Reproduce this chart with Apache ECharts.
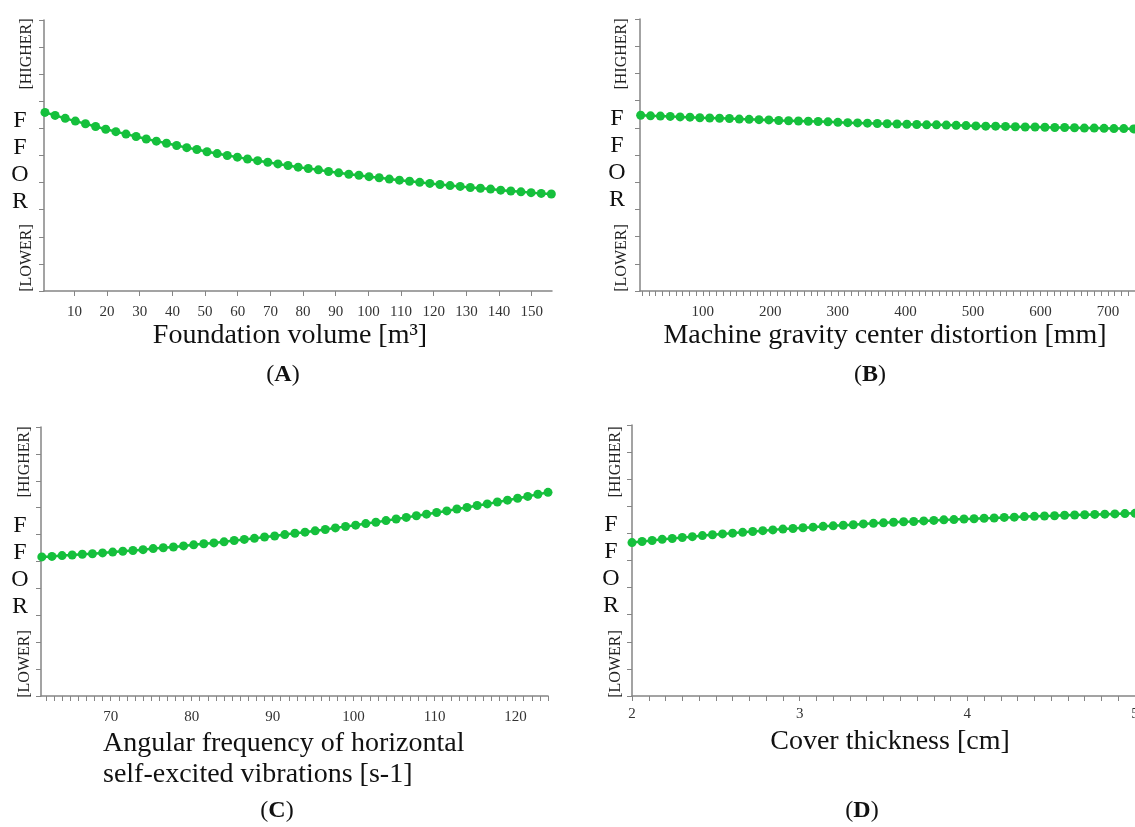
<!DOCTYPE html>
<html>
<head>
<meta charset="utf-8">
<script src="https://cdn.jsdelivr.net/npm/echarts@6/dist/echarts.min.js"></script>
<style>html,body{margin:0;padding:0;background:#fff;}#c{width:1135px;height:827px;}</style>
</head>
<body>
<div id="c"></div>
<script>
// ---- Data ----
const xA = [1,4.1,7.2,10.3,13.4,16.5,19.6,22.7,25.8,28.9,32,35.1,38.2,41.3,44.4,47.5,50.6,53.7,56.8,59.9,63,66.1,69.2,72.3,75.4,78.5,81.6,84.7,87.8,90.9,94,97.1,100.2,103.3,106.4,109.5,112.6,115.7,118.8,121.9,125,128.1,131.2,134.3,137.4,140.5,143.6,146.7,149.8,152.9,156];
const yA = [6.59,6.48,6.37,6.27,6.17,6.07,5.97,5.88,5.79,5.70,5.61,5.53,5.45,5.37,5.29,5.22,5.14,5.07,5.00,4.94,4.87,4.81,4.75,4.69,4.63,4.57,4.52,4.47,4.41,4.36,4.31,4.27,4.22,4.18,4.13,4.09,4.05,4.01,3.97,3.93,3.89,3.86,3.82,3.79,3.76,3.72,3.69,3.66,3.63,3.60,3.58];

const xB = [8,22.6,37.2,51.8,66.4,81,95.6,110.2,124.8,139.4,154,168.6,183.2,197.8,212.4,227,241.6,256.2,270.8,285.4,300,314.6,329.2,343.8,358.4,373,387.6,402.2,416.8,431.4,446,460.6,475.2,489.8,504.4,519,533.6,548.2,562.8,577.4,592,606.6,621.2,635.8,650.4,665,679.6,694.2,708.8,723.4,738];
const yB = [6.46,6.44,6.43,6.42,6.40,6.39,6.37,6.36,6.35,6.34,6.32,6.31,6.30,6.29,6.27,6.26,6.25,6.24,6.23,6.22,6.20,6.19,6.18,6.17,6.16,6.15,6.14,6.13,6.12,6.11,6.11,6.10,6.09,6.08,6.07,6.06,6.06,6.05,6.04,6.03,6.03,6.02,6.01,6.01,6.00,5.99,5.99,5.98,5.97,5.97,5.96];

const xC = [61.5,62.75,64,65.25,66.5,67.75,69,70.25,71.5,72.75,74,75.25,76.5,77.75,79,80.25,81.5,82.75,84,85.25,86.5,87.75,89,90.25,91.5,92.75,94,95.25,96.5,97.75,99,100.25,101.5,102.75,104,105.25,106.5,107.75,109,110.25,111.5,112.75,114,115.25,116.5,117.75,119,120.25,121.5,122.75,124];
const yC = [5.17,5.19,5.22,5.24,5.27,5.29,5.32,5.35,5.38,5.41,5.44,5.48,5.51,5.54,5.58,5.62,5.66,5.69,5.73,5.78,5.82,5.86,5.91,5.95,6.00,6.05,6.09,6.14,6.19,6.25,6.30,6.35,6.41,6.46,6.52,6.58,6.64,6.70,6.76,6.82,6.88,6.95,7.01,7.08,7.14,7.21,7.28,7.35,7.42,7.50,7.57];

const xD = [2,2.06,2.12,2.18,2.24,2.3,2.36,2.42,2.48,2.54,2.6,2.66,2.72,2.78,2.84,2.9,2.96,3.02,3.08,3.14,3.2,3.26,3.32,3.38,3.44,3.5,3.56,3.62,3.68,3.74,3.8,3.86,3.92,3.98,4.04,4.1,4.16,4.22,4.28,4.34,4.4,4.46,4.52,4.58,4.64,4.7,4.76,4.82,4.88,4.94,5];
const yD = [5.66,5.70,5.74,5.78,5.81,5.85,5.88,5.92,5.95,5.98,6.01,6.04,6.07,6.10,6.13,6.16,6.18,6.21,6.23,6.26,6.28,6.30,6.32,6.35,6.37,6.39,6.41,6.43,6.44,6.46,6.48,6.50,6.51,6.53,6.54,6.56,6.57,6.59,6.60,6.62,6.63,6.64,6.65,6.67,6.68,6.69,6.70,6.71,6.72,6.73,6.74];

// tick labels
const labelsA = [10,20,30,40,50,60,70,80,90,100,110,120,130,140,150];
const labelsB = [100,200,300,400,500,600,700];
const labelsC = [70,80,90,100,110,120];
const labelsD = [2,3,4,5];

const yTickValues = [0,1,2,3,4,5,6,7,8,9,10];

const namesX = ['Foundation volume [m\u00B3]', 'Machine gravity center distortion [mm]', 'Angular frequency of horizontal\nself-excited vibrations [s-1]', 'Cover thickness [cm]'];
const panelLetters = ['A','B','C','D'];
const yTopText = '[HIGHER]';
const yBottomText = '[LOWER]';
const yLetters = ['F','F','O','R'];

// ---- minor tick positions ----
function range(a, b, step, dec) {
  const out = [];
  const n = Math.round((b - a) / step);
  for (let i = 0; i <= n; i++) out.push(+(a + i * step).toFixed(dec));
  return out;
}
const ticksA = labelsA.slice();
const ticksB = range(10, 730, 10, 0);
const ticksC = range(62, 124, 1, 0);
const ticksD = range(2, 5, 0.1, 1);

// ---- Layout ----
const FONT = "'Liberation Serif', 'DejaVu Serif', serif";
const GRAY = '#858585';
const GREEN = '#15c03c';

const grids = [
  {left: 44, top: 20, width: 508, height: 271, outerBoundsMode: 'none', containLabel: false},
  {left: 640, top: 19, width: 495, height: 272, outerBoundsMode: 'none', containLabel: false},
  {left: 41, top: 427, width: 507, height: 269, outerBoundsMode: 'none', containLabel: false},
  {left: 632, top: 425, width: 503, height: 271, outerBoundsMode: 'none', containLabel: false}
];
const xRanges = [[0.7, 156.2], [7, 740], [61.4, 124], [2, 5]];
const tickSets = [ticksA, ticksB, ticksC, ticksD];
const labelSets = [labelsA, labelsB, labelsC, labelsD];
const labelMargins = [14, 14, 14, 11];
const xs = [xA, xB, xC, xD];
const ys = [yA, yB, yC, yD];

const xAxes = grids.map((g, i) => ({
  type: 'value', gridIndex: i, min: xRanges[i][0], max: xRanges[i][1],
  axisLine: {show: true, lineStyle: {color: GRAY, width: 1.5}},
  axisTick: {show: true, length: 5, lineStyle: {color: GRAY, width: 1}, customValues: tickSets[i]},
  axisLabel: {show: true, customValues: labelSets[i], margin: labelMargins[i], color: '#333', fontFamily: FONT, fontSize: 15, hideOverlap: false},
  splitLine: {show: false}
}));
const yAxes = grids.map((g, i) => ({
  type: 'value', gridIndex: i, min: 0, max: 10,
  axisLine: {show: true, lineStyle: {color: GRAY, width: 1.5}},
  axisTick: {show: true, length: 5, lineStyle: {color: GRAY, width: 1}, customValues: yTickValues},
  axisLabel: {show: false},
  splitLine: {show: false}
}));
const series = grids.map((g, i) => ({
  type: 'line', xAxisIndex: i, yAxisIndex: i,
  data: xs[i].map((x, k) => [x, ys[i][k]]),
  symbol: 'circle', symbolSize: 9,
  itemStyle: {color: GREEN},
  lineStyle: {color: GREEN, width: 2.5},
  clip: false
}));

// side labels positions per panel
const side = [
  {x: 27, lx: 20, hiY: 54, loY: 258, letterY: 121},
  {x: 622, lx: 617, hiY: 54, loY: 258, letterY: 119},
  {x: 25, lx: 20, hiY: 462, loY: 664, letterY: 526},
  {x: 616, lx: 611, hiY: 462, loY: 664, letterY: 525}
];
const graphic = [];
side.forEach((s) => {
  graphic.push({type: 'text', x: s.x, y: s.hiY, rotation: Math.PI / 2,
    style: {text: yTopText, font: '16px ' + FONT, fill: '#222', textAlign: 'center', textVerticalAlign: 'middle'}});
  graphic.push({type: 'text', x: s.x, y: s.loY, rotation: Math.PI / 2,
    style: {text: yBottomText, font: '16px ' + FONT, fill: '#222', textAlign: 'center', textVerticalAlign: 'middle'}});
  yLetters.forEach((ch, k) => {
    graphic.push({type: 'text', x: s.lx, y: s.letterY + k * 27,
      style: {text: ch, font: '24px ' + FONT, fill: '#111', textAlign: 'center', textVerticalAlign: 'middle'}});
  });
});
// axis names
graphic.push({type: 'text', x: 290, y: 336, style: {text: namesX[0], font: '28px ' + FONT, fill: '#111', textAlign: 'center', textVerticalAlign: 'middle'}});
graphic.push({type: 'text', x: 885, y: 336, style: {text: namesX[1], font: '28px ' + FONT, fill: '#111', textAlign: 'center', textVerticalAlign: 'middle'}});
graphic.push({type: 'text', x: 103, y: 728, style: {text: namesX[2], font: '28px ' + FONT, fill: '#111', textAlign: 'left', textVerticalAlign: 'top', lineHeight: 31}});
graphic.push({type: 'text', x: 890, y: 742, style: {text: namesX[3], font: '28px ' + FONT, fill: '#111', textAlign: 'center', textVerticalAlign: 'middle'}});
// captions
const capPos = [[283, 375], [870, 375], [277, 811], [862, 811]];
panelLetters.forEach((L, i) => {
  graphic.push({type: 'text', x: capPos[i][0], y: capPos[i][1],
    style: {text: '{n|(}{b|' + L + '}{n|)}', textAlign: 'center', textVerticalAlign: 'middle',
      rich: {n: {font: '24px ' + FONT, fill: '#111'}, b: {font: 'bold 24px ' + FONT, fill: '#111'}}}});
});

const chart = echarts.init(document.getElementById('c'), null, {renderer: 'canvas'});
chart.setOption({
  animation: false,
  backgroundColor: '#fff',
  grid: grids,
  xAxis: xAxes,
  yAxis: yAxes,
  series: series,
  graphic: graphic
});
</script>
</body>
</html>
